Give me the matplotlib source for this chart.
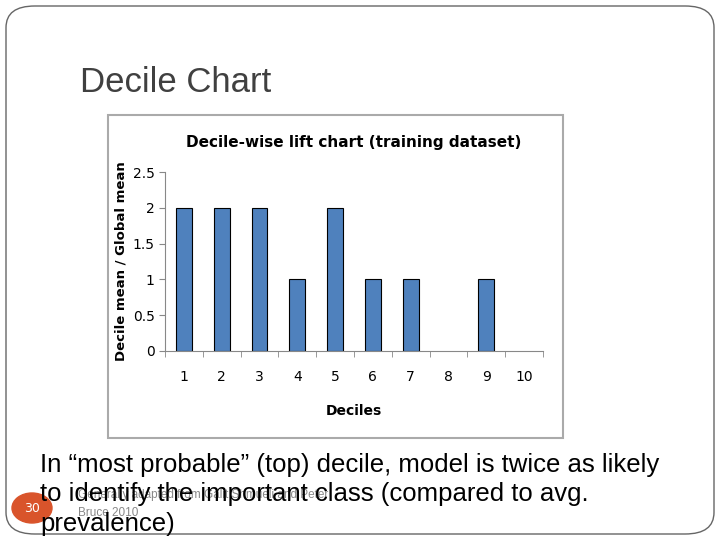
import matplotlib
matplotlib.use("Agg")
import matplotlib.pyplot as plt
from matplotlib.patches import FancyBboxPatch, Rectangle, Circle
import numpy as np

deciles = [1, 2, 3, 4, 5, 6, 7, 8, 9, 10]
lift = [2, 2, 2, 1, 2, 1, 1, 0, 1, 0]
yticks = [0, 0.5, 1, 1.5, 2, 2.5]
ylabels = ["0", "0.5", "1", "1.5", "2", "2.5"]

fig = plt.figure(figsize=(7.2, 5.4), dpi=100)
fig.patch.set_facecolor("white")
W, H = 720, 540
def fx(x): return x / W
def fy(y): return 1 - y / H

fig.patches.append(FancyBboxPatch((fx(6), fy(534)), fx(708), 528 / H,
                                  boxstyle="round,pad=0,rounding_size=0.04",
                                  transform=fig.transFigure, fill=False,
                                  edgecolor="#666666", linewidth=1.0))
fig.patches.append(Rectangle((fx(108), fy(438)), fx(455), 323 / H,
                             transform=fig.transFigure, fill=False,
                             edgecolor="#aaaaaa", linewidth=1.5))

fig.text(fx(80), fy(82), "Decile Chart", fontsize=25, color="#404040",
         va="center", ha="left", family="Liberation Sans")

ax = fig.add_axes([fx(165), fy(351), fx(378), 179 / H])
ew = [0.8 if v > 0 else 0 for v in lift]
ax.bar(deciles, lift, width=0.42, color="#4F81BD", edgecolor="black", linewidth=ew)
ax.set_xlim(0.5, 10.5)
ax.set_ylim(0, 2.5)
ax.set_yticks(yticks)
ax.set_yticklabels(ylabels, fontsize=10)
ax.set_xticks(deciles)
ax.set_xticklabels([str(d) for d in deciles], fontsize=10)
ax.tick_params(axis="x", length=0, pad=14)
ax.set_xticks(np.arange(0.5, 11, 1), minor=True)
ax.tick_params(axis="x", which="minor", length=4, color="#888888")
ax.tick_params(axis="y", length=4, color="#888888")
for s in ["top", "right"]:
    ax.spines[s].set_visible(False)
for s in ["left", "bottom"]:
    ax.spines[s].set_color("#888888")
ax.set_title("Decile-wise lift chart (training dataset)", fontsize=11,
             fontweight="bold", pad=18)
ax.set_xlabel("Deciles", fontsize=10, fontweight="bold", labelpad=14)
ax.set_ylabel("Decile mean / Global mean", fontsize=9.5, fontweight="bold")

fig.patches.append(Circle((fx(32), fy(508)), 20 / W, transform=fig.transFigure,
                          color="#D9542B"))
fig.text(fx(32), fy(508), "30", fontsize=9, color="white", ha="center", va="center")
fig.text(fx(78), fy(495), "Generally adapted from Galit Shmueli and Peter", fontsize=8.5,
         color="#888888", ha="left", va="center", family="Liberation Sans")
fig.text(fx(78), fy(513), "Bruce 2010", fontsize=8.5, color="#888888",
         ha="left", va="center", family="Liberation Sans")
fig.text(fx(40), fy(465), "In \u201cmost probable\u201d (top) decile, model is twice as likely",
         fontsize=18.5, ha="left", va="center", family="Liberation Sans")
fig.text(fx(40), fy(494), "to identify the important class (compared to avg.",
         fontsize=18.5, ha="left", va="center", family="Liberation Sans")
fig.text(fx(40), fy(524), "prevalence)",
         fontsize=18.5, ha="left", va="center", family="Liberation Sans")

fig.savefig("out.png", dpi=100)
